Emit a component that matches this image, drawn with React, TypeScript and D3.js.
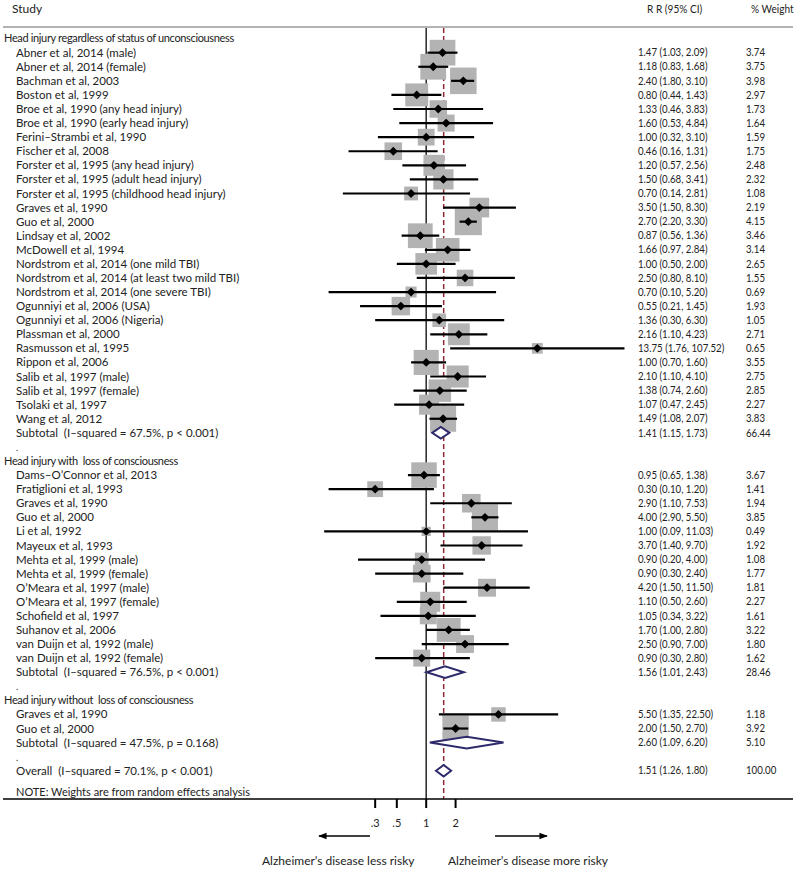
import React from 'react';
import * as d3 from 'd3';

// ---------- DATA ----------
const groupTitles = [
  'Head injury regardless of status of unconsciousness',
  'Head injury with  loss of consciousness',
  'Head injury without  loss of consciousness',
];

const group1Studies = [
  'Abner et al, 2014 (male)',
  'Abner et al, 2014 (female)',
  'Bachman et al, 2003',
  'Boston et al, 1999',
  'Broe et al, 1990 (any head injury)',
  'Broe et al, 1990 (early head injury)',
  'Ferini\u2013Strambi et al, 1990',
  'Fischer et al, 2008',
  'Forster et al, 1995 (any head injury)',
  'Forster et al, 1995 (adult head injury)',
  'Forster et al, 1995 (childhood head injury)',
  'Graves et al, 1990',
  'Guo et al, 2000',
  'Lindsay et al, 2002',
  'McDowell et al, 1994',
  'Nordstrom et al, 2014 (one mild TBI)',
  'Nordstrom et al, 2014 (at least two mild TBI)',
  'Nordstrom et al, 2014 (one severe TBI)',
  'Ogunniyi et al, 2006 (USA)',
  'Ogunniyi et al, 2006 (Nigeria)',
  'Plassman et al, 2000',
  'Rasmusson et al, 1995',
  'Rippon et al, 2006',
  'Salib et al, 1997 (male)',
  'Salib et al, 1997 (female)',
  'Tsolaki et al, 1997',
  'Wang et al, 2012',
];
const group1RR = [1.47, 1.18, 2.4, 0.8, 1.33, 1.6, 1.0, 0.46, 1.2, 1.5, 0.7, 3.5, 2.7, 0.87, 1.66, 1.0, 2.5, 0.7, 0.55, 1.36, 2.16, 13.75, 1.0, 2.1, 1.38, 1.07, 1.49];
const group1Lo = [1.03, 0.83, 1.8, 0.44, 0.46, 0.53, 0.32, 0.16, 0.57, 0.68, 0.14, 1.5, 2.2, 0.56, 0.97, 0.5, 0.8, 0.1, 0.21, 0.3, 1.1, 1.76, 0.7, 1.1, 0.74, 0.47, 1.08];
const group1Hi = [2.09, 1.68, 3.1, 1.43, 3.83, 4.84, 3.1, 1.31, 2.56, 3.41, 2.81, 8.3, 3.3, 1.36, 2.84, 2.0, 8.1, 5.2, 1.45, 6.3, 4.23, 107.52, 1.6, 4.1, 2.6, 2.45, 2.07];
const group1Weight = [3.74, 3.75, 3.98, 2.97, 1.73, 1.64, 1.59, 1.75, 2.48, 2.32, 1.08, 2.19, 4.15, 3.46, 3.14, 2.65, 1.55, 0.69, 1.93, 1.05, 2.71, 0.65, 3.55, 2.75, 2.85, 2.27, 3.83];

const group2Studies = [
  'Dams\u2013O\u2019Connor et al, 2013',
  'Fratiglioni et al, 1993',
  'Graves et al, 1990',
  'Guo et al, 2000',
  'Li et al, 1992',
  'Mayeux et al, 1993',
  'Mehta et al, 1999 (male)',
  'Mehta et al, 1999 (female)',
  'O\u2019Meara et al, 1997 (male)',
  'O\u2019Meara et al, 1997 (female)',
  'Schofield et al, 1997',
  'Suhanov et al, 2006',
  'van Duijn et al, 1992 (male)',
  'van Duijn et al, 1992 (female)',
];
const group2RR = [0.95, 0.3, 2.9, 4.0, 1.0, 3.7, 0.9, 0.9, 4.2, 1.1, 1.05, 1.7, 2.5, 0.9];
const group2Lo = [0.65, 0.1, 1.1, 2.9, 0.09, 1.4, 0.2, 0.3, 1.5, 0.5, 0.34, 1.0, 0.9, 0.3];
const group2Hi = [1.38, 1.2, 7.53, 5.5, 11.03, 9.7, 4.0, 2.4, 11.5, 2.6, 3.22, 2.8, 7.0, 2.8];
const group2Weight = [3.67, 1.41, 1.94, 3.85, 0.49, 1.92, 1.08, 1.77, 1.81, 2.27, 1.61, 3.22, 1.8, 1.62];

const group3Studies = ['Graves et al, 1990', 'Guo et al, 2000'];
const group3RR = [5.5, 2.0];
const group3Lo = [1.35, 1.5];
const group3Hi = [22.5, 2.7];
const group3Weight = [1.18, 3.92];

const subtotalLabels = [
  'Subtotal  (I\u2013squared = 67.5%, p < 0.001)',
  'Subtotal  (I\u2013squared = 76.5%, p < 0.001)',
  'Subtotal  (I\u2013squared = 47.5%, p = 0.168)',
];
const subtotalRR = [1.41, 1.56, 2.6];
const subtotalLo = [1.15, 1.01, 1.09];
const subtotalHi = [1.73, 2.43, 6.2];
const subtotalWeight = [66.44, 28.46, 5.1];

const overallLabel = 'Overall  (I\u2013squared = 70.1%, p < 0.001)';
const overallRR = 1.51;
const overallLo = 1.26;
const overallHi = 1.8;
const overallWeight = 100.0;

const noteText = 'NOTE: Weights are from random effects analysis';

const tickValues = [0.3, 0.5, 1, 2];
const tickLabels = ['.3', '.5', '1', '2'];

// ---------- LAYOUT ----------
const W = 796;
const H = 873;
const FONT = 'Lato, "Open Sans", sans-serif';

type Row =
  | { kind: 'group'; label: string }
  | { kind: 'study'; label: string; rr: number; lo: number; hi: number; w: number }
  | { kind: 'pooled'; label: string; rr: number; lo: number; hi: number; w: number }
  | { kind: 'dot' }
  | { kind: 'note'; label: string };

function buildRows(): Row[] {
  const rows: Row[] = [];
  const groups = [
    [group1Studies, group1RR, group1Lo, group1Hi, group1Weight],
    [group2Studies, group2RR, group2Lo, group2Hi, group2Weight],
    [group3Studies, group3RR, group3Lo, group3Hi, group3Weight],
  ] as const;
  groups.forEach((g, gi) => {
    const [names, rr, lo, hi, w] = g as any;
    rows.push({ kind: 'group', label: groupTitles[gi] });
    (names as string[]).forEach((n, i) => {
      rows.push({ kind: 'study', label: n, rr: rr[i], lo: lo[i], hi: hi[i], w: w[i] });
    });
    rows.push({
      kind: 'pooled',
      label: subtotalLabels[gi],
      rr: subtotalRR[gi],
      lo: subtotalLo[gi],
      hi: subtotalHi[gi],
      w: subtotalWeight[gi],
    });
    rows.push({ kind: 'dot' });
  });
  rows.push({ kind: 'pooled', label: overallLabel, rr: overallRR, lo: overallLo, hi: overallHi, w: overallWeight });
  rows.push({ kind: 'note', label: noteText });
  return rows;
}

const rows = buildRows();

const x = d3.scaleLog().domain([0.1, 100]).range([328.6, 621.4]);
const y = d3.scaleLinear().domain([0, 1]).range([38.6, 38.6 + 14.08]);
const boxSide = d3.scaleSqrt().domain([0, 1]).range([0, 13.3]);
const f2 = d3.format('.2f');

const topLineY = 27;
const axisY = 799;
const NUM_SCALE = 0.92;

export default function App() {
  const nullX = x(1);
  const overallX = x(overallRR);
  const studyRows = rows.map((r, i) => ({ r, i }));

  return (
    <svg
      width={W}
      height={H}
      style={{ position: 'absolute', left: 0, top: 0, background: '#fff' }}
      fontFamily={FONT}
    >
      <rect x={0} y={0} width={W} height={H} fill="#fff" />
      {/* header */}
      <text x={12} y={9} dy="0.35em" fontSize={12} fill="#222">Study</text>
      <text transform={`translate(647,9) scale(${NUM_SCALE},1)`} dy="0.35em" fontSize={11} fill="#222">R R (95% CI)</text>
      <text transform={`translate(751,9) scale(${NUM_SCALE},1)`} dy="0.35em" fontSize={11} fill="#222">% Weight</text>
      <line x1={3} x2={793} y1={topLineY} y2={topLineY} stroke="#9a9a9a" strokeWidth={1.5} />

      {/* reference lines */}
      <line x1={nullX} x2={nullX} y1={28} y2={axisY} stroke="#333" strokeWidth={1.6} />
      <line x1={overallX} x2={overallX} y1={28} y2={axisY} stroke="#8b2a35" strokeWidth={1.5} strokeDasharray="5,3" />

      {/* boxes */}
      {studyRows.map(({ r, i }) =>
        r.kind === 'study' ? (
          <rect
            key={'b' + i}
            x={x(r.rr) - boxSide(r.w) / 2}
            y={y(i) - boxSide(r.w) / 2}
            width={boxSide(r.w)}
            height={boxSide(r.w)}
            fill="#b3b3b3"
          />
        ) : null
      )}

      {/* CIs and point estimates */}
      {studyRows.map(({ r, i }) => {
        if (r.kind !== 'study') return null;
        const cx = x(r.rr);
        const cy = y(i);
        const s = 4.4;
        return (
          <g key={'c' + i}>
            <line x1={x(r.lo)} x2={x(r.hi)} y1={cy} y2={cy} stroke="#000" strokeWidth={2.2} />
            <path d={`M${cx - s},${cy}L${cx},${cy - s}L${cx + s},${cy}L${cx},${cy + s}Z`} fill="#000" />
          </g>
        );
      })}

      {/* pooled diamonds */}
      {studyRows.map(({ r, i }) => {
        if (r.kind !== 'pooled') return null;
        const cy = y(i);
        const h = 5.8;
        return (
          <path
            key={'d' + i}
            d={`M${x(r.lo)},${cy}L${x(r.rr)},${cy - h}L${x(r.hi)},${cy}L${x(r.rr)},${cy + h}Z`}
            fill="#fff"
            stroke="#2e2a6b"
            strokeWidth={2}
          />
        );
      })}

      {/* labels */}
      {studyRows.map(({ r, i }) => {
        const cy = i === rows.length - 1 ? 792 : y(i);
        if (r.kind === 'group')
          return (
            <text key={'t' + i} x={4} y={cy} dy="0.35em" fontSize={11} letterSpacing={-0.35} fill="#222" style={{ whiteSpace: 'pre' }}>
              {r.label}
            </text>
          );
        if (r.kind === 'dot')
          return (
            <text key={'t' + i} x={16} y={cy + 1} dy="0.35em" fontSize={9} fill="#222">.</text>
          );
        if (r.kind === 'note')
          return (
            <text key={'t' + i} x={16} y={cy} dy="0.35em" fontSize={11} fill="#222">{r.label}</text>
          );
        return (
          <g key={'t' + i}>
            <text x={16} y={cy} dy="0.35em" fontSize={11.5} fill="#222" style={{ whiteSpace: 'pre' }}>{r.label}</text>
            <text transform={`translate(638,${cy}) scale(${NUM_SCALE},1)`} dy="0.35em" fontSize={10.5} fill="#222">
              {`${f2(r.rr)} (${f2(r.lo)}, ${f2(r.hi)})`}
            </text>
            <text transform={`translate(746,${cy}) scale(${NUM_SCALE},1)`} dy="0.35em" fontSize={10.5} fill="#222">{f2(r.w)}</text>
          </g>
        );
      })}

      {/* axis */}
      <line x1={3} x2={793} y1={axisY} y2={axisY} stroke="#000" strokeWidth={1.5} />
      {tickValues.map((t, k) => (
        <g key={'k' + k}>
          <line x1={x(t)} x2={x(t)} y1={axisY} y2={axisY + 9} stroke="#000" strokeWidth={2} />
          <text x={x(t)} y={823} dy="0.35em" textAnchor="middle" fontSize={11} fill="#222">{tickLabels[k]}</text>
        </g>
      ))}

      {/* direction arrows */}
      <defs>
        <marker id="arr" viewBox="0 0 10 10" refX={9} refY={5} markerWidth={6} markerHeight={6} orient="auto-start-reverse">
          <path d="M0,1L10,5L0,9Z" fill="#000" />
        </marker>
      </defs>
      <line x1={370} x2={319} y1={836} y2={836} stroke="#000" strokeWidth={1.4} markerEnd="url(#arr)" />
      <line x1={495} x2={547} y1={836} y2={836} stroke="#000" strokeWidth={1.4} markerEnd="url(#arr)" />
      <text x={262} y={861} dy="0.35em" fontSize={12} fill="#222">Alzheimer{'\u2019'}s disease less risky</text>
      <text x={448} y={861} dy="0.35em" fontSize={12} fill="#222">Alzheimer{'\u2019'}s disease more risky</text>
    </svg>
  );
}
